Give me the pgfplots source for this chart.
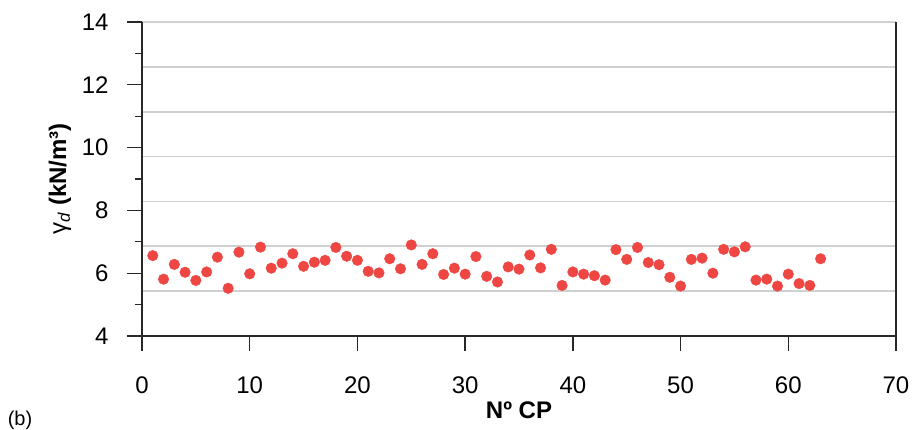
\documentclass[border=0pt]{standalone}
\usepackage{fontspec}
\setmainfont{Liberation Sans}
\usepackage{pgfplots}
\pgfplotsset{compat=1.18}
\definecolor{dotred}{RGB}{238,70,66}
\definecolor{gridgray}{RGB}{208,208,208}
\definecolor{axgray}{RGB}{40,40,40}
\begin{document}
\begin{tikzpicture}
\useasboundingbox (-142pt,-94pt) rectangle (773pt,336pt);
\begin{axis}[
 at={(0pt,0pt)}, anchor=south west,
 width=754pt, height=314pt, scale only axis,
 xmin=0, xmax=70, ymin=4, ymax=14,
 xtick={0,10,...,70}, ytick={4,6,...,14},
 minor y tick num=1,
 tick pos=left, tick align=outside,
 major tick length=15pt, minor tick length=7pt,
 axis line style={draw=none},
 tick style={axgray, line width=1.3pt},
 font=\fontsize{24}{28}\selectfont,
 /pgf/number format/assume math mode=true,
 ticklabel style={font=\fontsize{24}{28}\selectfont},
 xticklabel style={yshift=-22pt},
 yticklabel style={xshift=-15pt},
 extra y ticks={5.428571,6.857143,8.285714,9.714286,11.142857,12.571429,14},
 extra y tick labels={},
 extra y tick style={grid=major, tick style={draw=none}, major grid style={gridgray, line width=1.6pt}},
 xlabel={\textbf{Nº CP}},
 ylabel={γ\textsubscript{\textit{d}} \textbf{(kN/m³)}},
 xlabel style={at={(axis description cs:0.5,0)}, anchor=center, yshift=-74pt},
 ylabel style={at={(axis description cs:0,0.5)}, anchor=center, yshift=82pt},
 clip=false,
]
\draw[axgray, line width=1.3pt] (axis cs:0,14) -- (axis cs:0,4) -- (axis cs:70,4) -- (axis cs:70,14);
\addplot[only marks, mark=*, mark size=5.3pt, mark options={draw=dotred, fill=dotred}] table {
x y
1 6.56
2 5.81
3 6.28
4 6.03
5 5.77
6 6.04
7 6.51
8 5.52
9 6.67
10 5.98
11 6.83
12 6.16
13 6.32
14 6.62
15 6.22
16 6.35
17 6.41
18 6.82
19 6.54
20 6.41
21 6.06
22 6.01
23 6.46
24 6.14
25 6.90
26 6.28
27 6.62
28 5.96
29 6.16
30 5.97
31 6.53
32 5.90
33 5.72
34 6.20
35 6.13
36 6.58
37 6.17
38 6.76
39 5.61
40 6.04
41 5.97
42 5.92
43 5.78
44 6.75
45 6.44
46 6.82
47 6.34
48 6.27
49 5.87
50 5.59
51 6.44
52 6.48
53 6.00
54 6.76
55 6.68
56 6.84
57 5.78
58 5.81
59 5.59
60 5.97
61 5.67
62 5.61
63 6.46
};
\end{axis}
\node[font=\fontsize{20}{24}\selectfont] at (-122pt,-84pt) {(b)};
\end{tikzpicture}
\end{document}
